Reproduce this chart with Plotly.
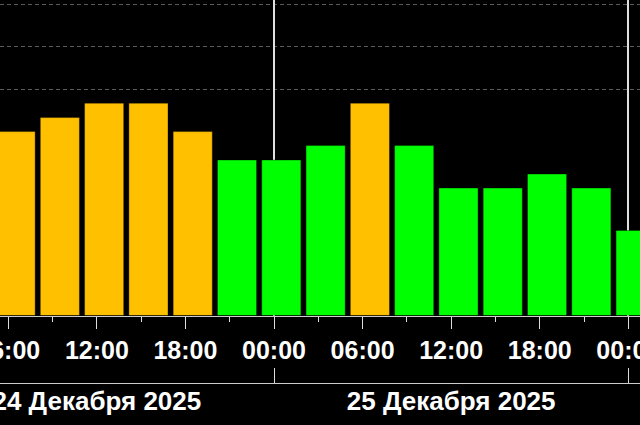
import plotly.graph_objects as go

# 3-hour Kp intervals (start time) and Kp values
interval_start = [
    "2025-12-24 06:00", "2025-12-24 09:00", "2025-12-24 12:00", "2025-12-24 15:00",
    "2025-12-24 18:00", "2025-12-24 21:00", "2025-12-25 00:00", "2025-12-25 03:00",
    "2025-12-25 06:00", "2025-12-25 09:00", "2025-12-25 12:00", "2025-12-25 15:00",
    "2025-12-25 18:00", "2025-12-25 21:00", "2025-12-26 00:00",
]
kp = [4.0, 4.33, 4.67, 4.67, 4.0, 3.33, 3.33, 3.67, 4.67, 3.67, 2.67, 2.67, 3.0, 2.67, 1.67]

day_bounds = ["2025-12-25 00:00", "2025-12-26 00:00"]
day_centers = ["2025-12-24 12:00", "2025-12-25 12:00"]
day_labels = ["24 Декабря 2025", "25 Декабря 2025"]
grid_levels = [5, 6, 7]

HOUR = 3600000
BASE = -1 / 3
X_RANGE = ["2025-12-24 05:26:24", "2025-12-26 00:47:30"]
TICK_FONT = dict(family="Liberation Sans, Arial, sans-serif", size=25, color="white", weight="bold")
DATE_FONT = dict(family="Liberation Sans, Arial, sans-serif", size=26, color="white", weight="bold")

colors = ["#FFC000" if v >= 4 else "#00FF00" for v in kp]

fig = go.Figure()
fig.add_trace(go.Bar(
    x=interval_start,
    y=[v - BASE for v in kp],
    base=BASE,
    width=2.65 * HOUR,
    offset=-0.83 * HOUR,
    marker=dict(color=colors, line=dict(color="rgba(0,0,0,0.35)", width=1)),
    hoverinfo="skip",
    showlegend=False,
))
fig.add_trace(go.Scatter(x=day_bounds, y=[None, None], xaxis="x2", yaxis="y",
                         mode="markers", showlegend=False, hoverinfo="skip"))
fig.add_trace(go.Scatter(x=day_centers, y=[None, None], xaxis="x3", yaxis="y",
                         mode="markers", showlegend=False, hoverinfo="skip"))

fig.update_layout(
    width=640, height=425,
    margin=dict(l=0, r=0, t=0, b=0),
    paper_bgcolor="#000000", plot_bgcolor="#000000",
    showlegend=False,
    bargap=0,
    xaxis=dict(
        type="date", range=X_RANGE, domain=[0, 1], anchor="y",
        tickformat="%H:%M", dtick=6 * HOUR, tick0="2025-12-24 00:00",
        ticks="outside", ticklen=12, tickwidth=1, tickcolor="#dddddd",
        showline=True, linecolor="#cccccc", linewidth=1,
        showgrid=False, zeroline=False, tickfont=TICK_FONT, automargin=False,
        ticklabeloverflow="allow",
        minor=dict(dtick=3 * HOUR, tick0="2025-12-24 00:00", ticks="outside",
                   ticklen=5, tickwidth=1, tickcolor="#dddddd", showgrid=False),
    ),
    xaxis2=dict(
        type="date", range=X_RANGE, overlaying="x", anchor="free", position=0.0988,
        side="bottom", tickvals=day_bounds, ticks="inside", ticklen=15, tickwidth=1,
        tickcolor="#dddddd", showticklabels=False,
        showline=True, linecolor="#cccccc", linewidth=1,
        showgrid=True, gridcolor="#e0e0e0", gridwidth=2, zeroline=False, automargin=False,
    ),
    xaxis3=dict(
        type="date", range=X_RANGE, overlaying="x", anchor="free", position=0.0988,
        side="bottom", tickvals=day_centers, ticktext=day_labels, ticks="",
        showline=False, showgrid=False, zeroline=False, tickfont=DATE_FONT,
        automargin=False, ticklabeloverflow="allow",
    ),
    yaxis=dict(
        domain=[0.2576, 1], range=[BASE, 7.1], tickvals=grid_levels,
        showticklabels=False, ticks="", showgrid=True, gridcolor="#5a5a5a",
        griddash="4px,3px", gridwidth=1, zeroline=False, showline=False, automargin=False,
    ),
)

fig.write_html(
    "out.html",
    config={"displayModeBar": False, "staticPlot": True},
    post_script="document.body.style.margin='0';document.body.style.background='#000';",
)
